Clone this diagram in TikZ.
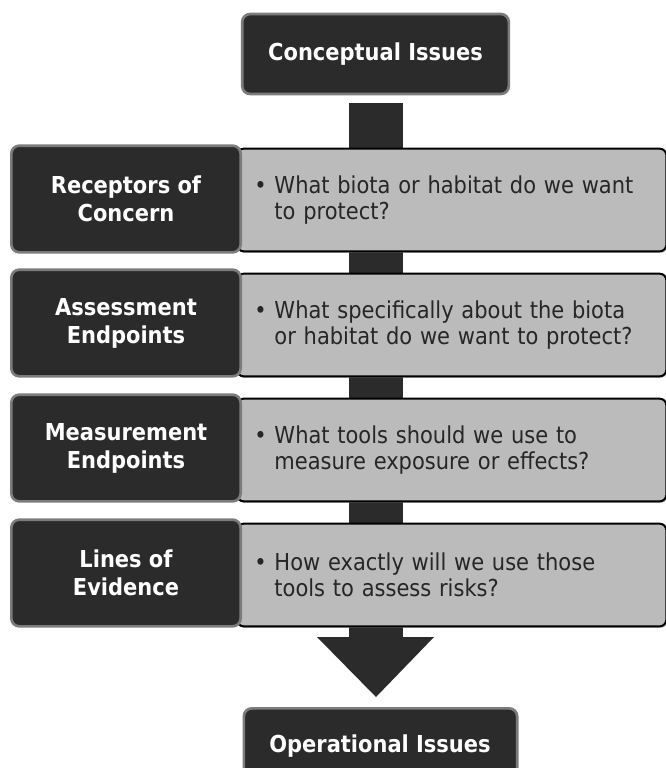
\documentclass[tikz,border=0pt]{standalone}
\usepackage{fontspec}
\setmainfont{DejaVu Sans Condensed}
\usetikzlibrary{shadows}

\definecolor{darkbox}{HTML}{2B2B2B}
\definecolor{rimgray}{HTML}{7C7C7C}
\definecolor{qgray}{HTML}{BBBBBB}

\begin{document}
\begin{tikzpicture}[x=0.75pt,y=-0.75pt,
    issue/.style={draw=rimgray,line width=2pt,fill=darkbox,rounded corners=6pt,
      text=white,font=\fontsize{17.5}{21}\selectfont\bfseries,inner sep=0pt},
    stage/.style={draw=rimgray,line width=2pt,fill=darkbox,rounded corners=6pt,
      text=white,font=\fontsize{17.5}{21}\selectfont\bfseries,align=center,
      minimum width=172pt,minimum height=80pt,inner sep=0pt},
    question/.style={draw=black,line width=1.5pt,fill=qgray,rounded corners=5pt,
      text=black!85,font=\fontsize{17.5}{19.5}\selectfont,align=left,
      text width=296pt,minimum width=321pt,minimum height=77pt,inner xsep=13pt,
      drop shadow={shadow xshift=0.6pt,shadow yshift=-1.2pt,opacity=0.6}}]
\useasboundingbox (0,0) rectangle (666,768);

% big arrow behind the rows
\fill [darkbox] (349,103) rectangle (403,638);
\fill [darkbox] (317,637) -- (434,637) -- (376,697) -- cycle;

\node [issue,minimum width=200pt,minimum height=60pt] (concept) at (375.5,54) {Conceptual Issues};

\node [question,anchor=west] (q1) at (236,200) {\textbullet\ What biota or habitat do we want\\\phantom{\textbullet\ }to protect?};
\node [stage] (s1) at (126,199) {Receptors of\\Concern};

\node [question,anchor=west] (q2) at (236,325) {\textbullet\ What specifically about the biota\\\phantom{\textbullet\ }or habitat do we want to protect?};
\node [stage] (s2) at (126,323) {Assessment\\Endpoints};

\node [question,anchor=west] (q3) at (236,450) {\textbullet\ What tools should we use to\\\phantom{\textbullet\ }measure exposure or effects?};
\node [stage] (s3) at (126,448) {Measurement\\Endpoints};

\node [question,anchor=west] (q4) at (236,575) {\textbullet\ How exactly will we use those\\\phantom{\textbullet\ }tools to assess risks?};
\node [stage] (s4) at (126,573) {Lines of\\Evidence};

\begin{scope}
\clip (0,0) rectangle (666,768);
\node [issue,anchor=north,minimum width=205pt,minimum height=70pt] (oper) at (380.5,707) {};
\node [text=white,font=\fontsize{17.5}{21}\selectfont\bfseries] (opertext) at (380,746) {Operational Issues};
\end{scope}
\end{tikzpicture}
\end{document}
